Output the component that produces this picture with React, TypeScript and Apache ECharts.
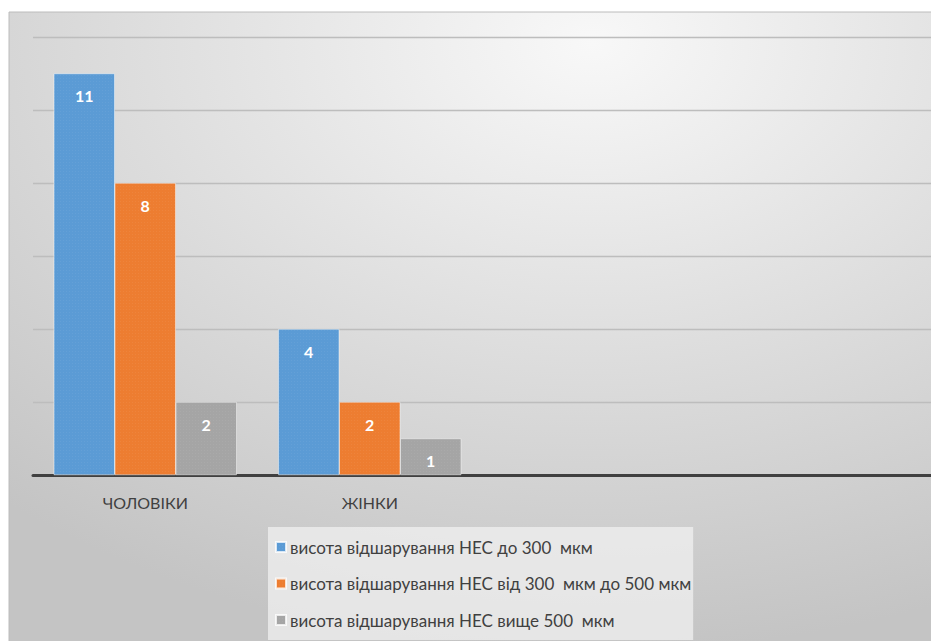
import React, { useEffect, useRef } from "react";
import * as echarts from "echarts";

const categories = ["ЧОЛОВІКИ", "ЖІНКИ", "", ""];
const seriesNames = [
  "висота відшарування НЕС до 300  мкм",
  "висота відшарування НЕС від 300  мкм до 500 мкм",
  "висота відшарування НЕС вище 500  мкм",
];
const upTo300 = [11, 4, null, null];
const from300to500 = [8, 2, null, null];
const above500 = [2, 1, null, null];
const colors = ["#5b9bd5", "#ed7d31", "#a5a5a5"];

const FONT = "Lato, 'Noto Sans', sans-serif";

export default function App() {
  const ref = useRef<HTMLDivElement>(null);
  useEffect(() => {
    if (!ref.current) return;
    const chart = echarts.init(ref.current, undefined, { renderer: "svg" });
    const values = [upTo300, from300to500, above500];
    const decal = {
      symbol: "rect",
      symbolSize: 0.6,
      color: "rgba(255,255,255,0.18)",
      dashArrayX: [1, 2],
      dashArrayY: [1, 2],
    };
    chart.setOption({
      animation: false,
      backgroundColor: "#ffffff",
      graphic: [
        {
          type: "rect",
          z: -10,
          silent: true,
          shape: { x: 9, y: 12, width: 940, height: 640 },
          style: {
            fill: new echarts.graphic.RadialGradient(0.62, 0.05, 0.95, [
              { offset: 0, color: "#f8f8f8" },
              { offset: 1, color: "#c4c4c4" },
            ]),
            stroke: "#bcbcbc",
            lineWidth: 1,
          },
        },
      ],
      grid: { left: 33, top: 37, width: 900, height: 438, containLabel: false },
      xAxis: {
        type: "category",
        data: categories,
        axisLine: { show: true, lineStyle: { color: "#404040", width: 3 } },
        axisTick: { show: false },
        axisLabel: {
          color: "#404040",
          fontSize: 16,
          fontFamily: FONT,
          margin: 19,
        },
      },
      yAxis: {
        type: "value",
        min: 0,
        max: 12,
        interval: 2,
        axisLine: { show: false },
        axisTick: { show: false },
        axisLabel: { show: false },
        splitLine: {
          show: true,
          lineStyle: { color: "#bdbdbd", width: 1.3 },
        },
      },
      legend: {
        orient: "vertical",
        left: 268,
        top: 527,
        padding: [10, 2, 10, 7],
        itemWidth: 10,
        itemHeight: 10,
        itemGap: 16.5,
        icon: "rect",
        backgroundColor: "rgba(240,240,240,0.75)",
        textStyle: {
          color: "#404040",
          fontSize: 17,
          fontFamily: FONT,
          lineHeight: 20,
          padding: [0, 0, 0, -1],
        },
        data: seriesNames,
      },
      series: seriesNames.map((name, i) => ({
        name,
        type: "bar",
        data: values[i],
        barWidth: 61,
        barGap: "0%",
        itemStyle: {
          color: colors[i],
          borderColor: "rgba(255,255,255,0.5)",
          borderWidth: 0.5,
          decal,
        },
        label: {
          show: true,
          position: "insideTop",
          distance: 14,
          color: "#ffffff",
          fontWeight: "bold",
          fontSize: 16,
          fontFamily: FONT,
        },
      })),
    });
    return () => chart.dispose();
  }, []);
  return (
    <div
      ref={ref}
      style={{ position: "absolute", left: 0, top: 0, width: 931, height: 641 }}
    />
  );
}
